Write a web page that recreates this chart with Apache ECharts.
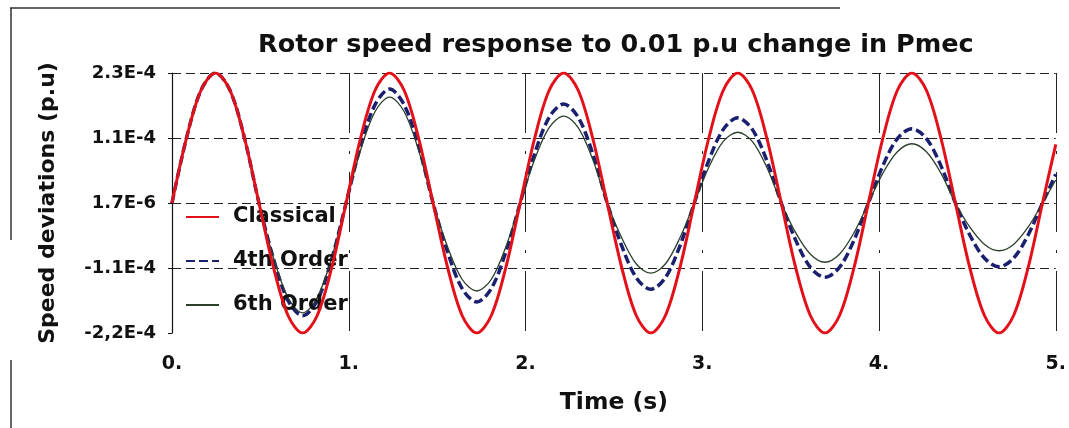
<!DOCTYPE html>
<html>
<head>
<meta charset="utf-8">
<script src="https://cdn.jsdelivr.net/npm/echarts@6/dist/echarts.min.js"></script>
<style>
html,body{margin:0;padding:0;background:#fff;}
#chart{width:1069px;height:428px;}
</style>
</head>
<body>
<div id="chart"></div>
<script>
// Time (s)
const times = [0, 0.082, 0.164, 0.246, 0.328, 0.410, 0.492, 0.575, 0.657, 0.739, 0.821, 0.903,
  0.985, 1.067, 1.149, 1.231, 1.313, 1.395, 1.477, 1.560, 1.642, 1.724, 1.806, 1.888,
  1.970, 2.052, 2.134, 2.216, 2.298, 2.380, 2.462, 2.545, 2.627, 2.709, 2.791, 2.873,
  2.955, 3.037, 3.119, 3.201, 3.283, 3.365, 3.447, 3.529, 3.612, 3.694, 3.776, 3.858,
  3.940, 4.022, 4.104, 4.186, 4.268, 4.350, 4.432, 4.514, 4.597, 4.679, 4.761, 4.843,
  4.925, 5.0];

// Speed deviations, in units of 1e-4 p.u.
const classical = [0, 1.13, 1.96, 2.26, 1.96, 1.13, 0, -1.13, -1.96, -2.26, -1.96, -1.13,
  0, 1.13, 1.96, 2.26, 1.96, 1.13, 0, -1.13, -1.96, -2.26, -1.96, -1.13,
  0, 1.13, 1.96, 2.26, 1.96, 1.13, 0, -1.13, -1.96, -2.26, -1.96, -1.13,
  0, 1.13, 1.96, 2.26, 1.96, 1.13, 0, -1.13, -1.96, -2.26, -1.96, -1.13,
  0, 1.13, 1.96, 2.26, 1.96, 1.13, 0, -1.13, -1.96, -2.26, -1.96, -1.13,
  0, 1.02];

const order4 = [0, 1.13, 1.96, 2.26, 1.96, 1.13, 0, -0.98, -1.70, -1.96, -1.70, -0.98,
  0, 0.99, 1.71, 1.98, 1.71, 0.99, 0, -0.86, -1.49, -1.72, -1.49, -0.86,
  0, 0.86, 1.49, 1.72, 1.49, 0.86, 0, -0.75, -1.30, -1.50, -1.30, -0.75,
  0, 0.74, 1.28, 1.48, 1.28, 0.74, 0, -0.65, -1.12, -1.29, -1.12, -0.65,
  0, 0.65, 1.12, 1.29, 1.12, 0.65, 0, -0.56, -0.96, -1.11, -0.96, -0.56,
  0, 0.50];

const order6 = [0, 1.13, 1.96, 2.26, 1.96, 1.13, 0, -0.96, -1.65, -1.91, -1.65, -0.96,
  0, 0.92, 1.59, 1.84, 1.59, 0.92, 0, -0.77, -1.33, -1.53, -1.33, -0.77,
  0, 0.76, 1.31, 1.51, 1.31, 0.76, 0, -0.61, -1.06, -1.22, -1.06, -0.61,
  0, 0.62, 1.07, 1.23, 1.07, 0.62, 0, -0.52, -0.89, -1.03, -0.89, -0.52,
  0, 0.52, 0.89, 1.03, 0.89, 0.52, 0, -0.42, -0.72, -0.83, -0.72, -0.42,
  0, 0.40];

const seriesNames = ['Classical', '4th Order', '6th Order'];
const xTickLabels = ['0.', '1.', '2.', '3.', '4.', '5.'];
const yTickLabels = ['-2,2E-4', '-1.1E-4', '1.7E-6', '1.1E-4', '2.3E-4'];

const Y_STEP = 1.13;
const Y_MIN = -2 * Y_STEP;
const Y_MAX = 2 * Y_STEP;

const pairs = ys => times.map((t, i) => [t, ys[i]]);

const chart = echarts.init(document.getElementById('chart'), null, {renderer: 'canvas'});
const FONT = 'DejaVu Sans';

chart.setOption({
  animation: false,
  backgroundColor: '#ffffff',
  title: {
    text: 'Rotor speed response to 0.01 p.u change in Pmec',
    left: 253, top: 27,
    textStyle: {fontFamily: FONT, fontWeight: 'bold', fontSize: 25.5, color: '#111'}
  },
  grid: {left: 172, right: 7, top: 73, bottom: 95},
  legend: {
    orient: 'vertical', left: 185, top: 206, padding: 0,
    itemWidth: 33, itemHeight: 14, itemGap: 22,
    data: seriesNames,
    itemStyle: {opacity: 0},
    textStyle: {fontFamily: FONT, fontWeight: 'bold', fontSize: 21, color: '#111', lineHeight: 22, padding: [0, 0, 0, 9]}
  },
  graphic: [
    {type: 'line', shape: {x1: 10, y1: 8, x2: 840, y2: 8}, style: {stroke: '#333', lineWidth: 1.5}},
    {type: 'line', shape: {x1: 11, y1: 8, x2: 11, y2: 240}, style: {stroke: '#333', lineWidth: 1.5}},
    {type: 'line', shape: {x1: 11, y1: 360, x2: 11, y2: 428}, style: {stroke: '#333', lineWidth: 1.5}}
  ],
  xAxis: {
    type: 'value', min: 0, max: 5, interval: 1,
    name: 'Time (s)', nameLocation: 'middle', nameGap: 58,
    nameTextStyle: {fontFamily: FONT, fontWeight: 'bold', fontSize: 23.5, color: '#111'},
    axisLine: {show: false},
    axisTick: {show: false},
    axisLabel: {
      margin: 22, fontFamily: FONT, fontWeight: 'bold', fontSize: 19, color: '#111',
      formatter: v => xTickLabels[Math.round(v)]
    },
    splitLine: {show: true, showMinLine: false, showMaxLine: true,
      lineStyle: {color: '#222', width: 1, type: [60, 18, 3, 18]}}
  },
  yAxis: {
    type: 'value', min: Y_MIN, max: Y_MAX, interval: Y_STEP,
    name: 'Speed deviations (p.u)', nameLocation: 'middle', nameGap: 113,
    nameTextStyle: {fontFamily: FONT, fontWeight: 'bold', fontSize: 22, color: '#111'},
    axisLine: {show: true, lineStyle: {color: '#111', width: 1.2}},
    axisTick: {show: true, length: 4, lineStyle: {color: '#111'}},
    axisLabel: {
      margin: 16, fontFamily: FONT, fontWeight: 'bold', fontSize: 18, color: '#111',
      formatter: v => yTickLabels[Math.round((v - Y_MIN) / Y_STEP)]
    },
    splitLine: {show: true, showMinLine: false,
      lineStyle: {color: '#222', width: 1, type: [9, 5]}}
  },
  series: [
    {name: seriesNames[0], type: 'line', data: pairs(classical), symbol: 'none', smooth: 0.33, z: 4,
      lineStyle: {color: '#e3101a', width: 3}, itemStyle: {color: '#e3101a'}},
    {name: seriesNames[1], type: 'line', data: pairs(order4), symbol: 'none', smooth: 0.33, z: 2,
      lineStyle: {color: '#1a1f6e', width: 3.5, type: [9, 4]}, itemStyle: {color: '#1a1f6e'}},
    {name: seriesNames[2], type: 'line', data: pairs(order6), symbol: 'none', smooth: 0.33, z: 3,
      lineStyle: {color: '#2b3f2b', width: 1.3}, itemStyle: {color: '#2b3f2b'}}
  ]
});
</script>
</body>
</html>
